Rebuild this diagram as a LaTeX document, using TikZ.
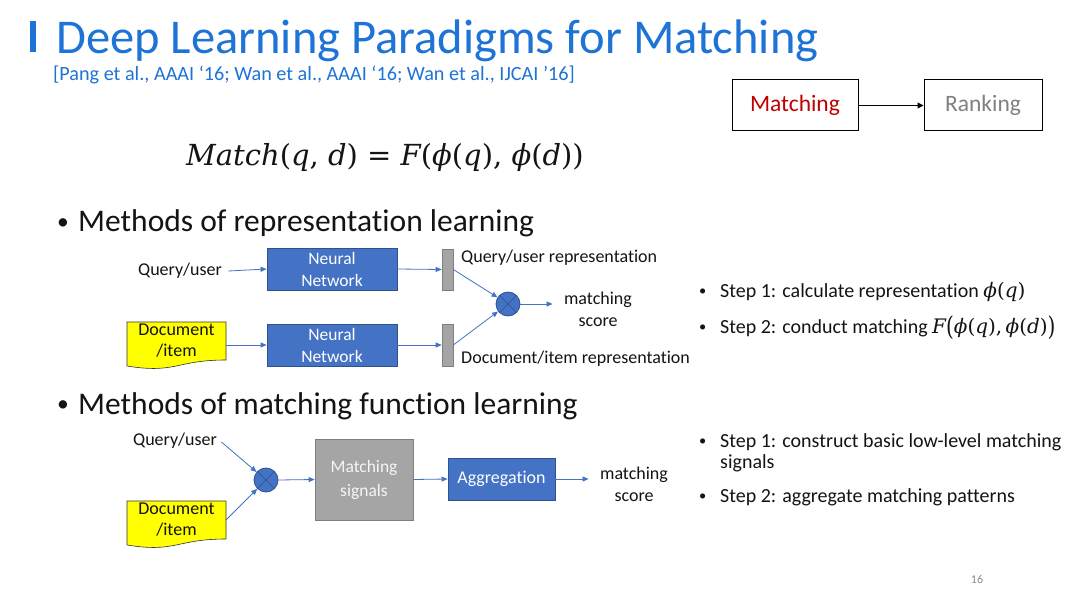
\documentclass[tikz,border=0pt]{standalone}
\usepackage{fontspec}
\usepackage{graphicx}
\setmainfont{Carlito}[Ligatures=NoCommon]
\newfontfamily\mathserif{DejaVu Serif}
\usetikzlibrary{arrows.meta}
\definecolor{ttl}{RGB}{30,115,215}
\definecolor{nnblue}{RGB}{68,114,196}
\definecolor{nnborder}{RGB}{47,82,143}
\definecolor{gfill}{RGB}{165,165,165}
\definecolor{gborder}{RGB}{127,127,127}
\definecolor{docy}{RGB}{255,255,0}
\definecolor{mred}{RGB}{192,0,0}
\definecolor{rgrey}{RGB}{128,128,128}
\definecolor{txt}{RGB}{20,20,20}
\tikzset{
  nnbox/.style={draw=nnborder, fill=nnblue, text=white, align=center, inner sep=0pt,
    font=\fontsize{17.5}{22}\selectfont, line width=0.8pt},
  graybox/.style={draw=gborder, fill=gfill, text=white!92!gray, align=center, inner sep=0pt,
    font=\fontsize{17.5}{24}\selectfont, line width=0.8pt},
  repbar/.style={draw=gborder, fill=gfill, inner sep=0pt, minimum width=11pt, line width=0.6pt},
  mult/.style={circle, draw=nnborder, fill=nnblue, inner sep=0pt, minimum size=24pt, line width=0.8pt},
  flow/.style={draw=nnblue, line width=0.8pt, -{Triangle[length=6pt,width=5pt]}},
  docshape/.style={draw=black!80, fill=docy, line width=0.6pt},
  doctext/.style={align=center, inner sep=0pt, font=\fontsize{18}{21}\selectfont, text=txt},
  lbl/.style={text=txt, font=\fontsize{18}{22}\selectfont},
  stepline/.style={anchor=base west, inner sep=0pt, text=txt, font=\fontsize{20}{24}\selectfont},
  secline/.style={anchor=base west, inner sep=0pt, text=txt, font=\fontsize{31.5}{36}\selectfont},
  pbox/.style={draw=black, line width=1pt, fill=white, minimum width=#1, minimum height=51pt, inner sep=0pt, font=\fontsize{23.5}{28}\selectfont},
}
\newcommand{\mybul}{\makebox[21pt][l]{\raisebox{0.1em}{\scalebox{0.72}{\textbullet}}}}
\newcommand{\secbul}{\makebox[21pt][l]{\raisebox{0.08em}{\scalebox{0.75}{\textbullet}}}}
\newcommand{\mi}[1]{{\mathserif\itshape #1}}
\newcommand{\mphi}{{\mathserif\itshape ϕ}}
\newcommand{\bigpar}[1]{\raisebox{-0.12em}{\scalebox{1}[1.3]{#1}}}
\begin{document}
\begin{tikzpicture}[x=1pt,y=-1pt]
\useasboundingbox (0,0) rectangle (1080,607);
\fill[white] (0,0) rectangle (1080,607);

% title
\node[fill=ttl, minimum width=6pt, minimum height=31pt, inner sep=0pt] (tbar) at (33,37) {};
\node[anchor=base west, inner sep=0pt, text=ttl, font=\fontsize{48.5}{56}\selectfont] (title) at (56,54) {Deep Learning Paradigms for Matching};
\node[anchor=base west, inner sep=0pt, text=ttl, font=\fontsize{20.2}{24}\selectfont] (cite) at (53,81) {[Pang et al., AAAI ‘16; Wan et al., AAAI ‘16; Wan et al., IJCAI ’16]};

% matching -> ranking
\node[pbox=126pt, text=mred] (match) at (795,105.5) {Matching};
\node[pbox=118pt, text=rgrey] (rank) at (983,105.5) {Ranking};
\draw[line width=1pt, -{Triangle[length=6pt,width=6pt]}] (match.east) -- (rank.west);

% formula
\node[text=txt, font=\fontsize{29}{34}\selectfont\mathserif, inner sep=0pt] (formula) at (385,158) {\mi{Match}(\mi{q}, \mi{d}) = \mi{F}(\mphi(\mi{q}), \mphi(\mi{d}))};

% section 1
\node[secline] (sec1) at (57,232) {\secbul Methods of representation learning};

\node[lbl] (q1) at (180,271) {Query/user};
\node[nnbox, minimum width=130pt, minimum height=42pt] (nn1) at (332,269) {Neural\\Network};
\node[nnbox, minimum width=130pt, minimum height=42pt] (nn2) at (332,345) {Neural\\Network};
\draw[docshape] (127,322) -- (226,322) -- (226,360) .. controls (176,360) and (176,374) .. (127,366) -- cycle;
\node[doctext, minimum width=99pt, minimum height=40pt] (d1) at (176.5,341) {Document\\/item};
\node[repbar, minimum height=41pt] (b1) at (447.5,269.5) {};
\node[repbar, minimum height=42pt] (b2) at (447.5,345) {};
\node[mult] (c1) at (508,304) {};
\draw[nnborder, line width=0.6pt] (c1.north east) -- (c1.south west) (c1.north west) -- (c1.south east);
\node[lbl, align=center, font=\fontsize{18}{22}\selectfont] (ms1) at (598,309) {matching\\score};
\node[lbl, anchor=west, inner sep=0pt] (rq) at (461,258) {Query/user representation};
\node[lbl, anchor=west, inner sep=0pt] (rd) at (461,359) {Document/item representation};

\draw[flow] ([xshift=3pt]q1.east) -- (nn1.west);
\draw[flow] (226,345) -- (nn2.west);
\draw[flow] (nn1.east) -- (b1.west);
\draw[flow] (nn2.east) -- (b2.west);
\draw[flow] (b1.east) -- (c1);
\draw[flow] (b2.east) -- (c1);
\draw[flow, shorten >=8pt] (c1.east) -- (ms1.west |- c1.east);

\node[stepline] (s1a) at (699,298) {\mybul Step 1: calculate representation {\fontsize{20}{24}\selectfont\mathserif\mphi(\mi{q})}};
\node[stepline] (s1b) at (699,333) {\mybul Step 2: conduct matching {\fontsize{20}{24}\selectfont\mathserif\mi{F}\bigpar{(}\mphi(\mi{q}),\,\mphi(\mi{d})\bigpar{)}}};

% section 2
\node[secline] (sec2) at (57,414) {\secbul Methods of matching function learning};

\node[lbl] (q2) at (175,441) {Query/user};
\draw[docshape] (127,501) -- (226,501) -- (226,539) .. controls (176,539) and (176,553) .. (127,545) -- cycle;
\node[doctext, minimum width=99pt, minimum height=40pt] (d2) at (176.5,520) {Document\\/item};
\node[mult] (c2) at (266,480) {};
\draw[nnborder, line width=0.6pt] (c2.north east) -- (c2.south west) (c2.north west) -- (c2.south east);
\node[graybox, minimum width=98pt, minimum height=81pt] (msig) at (364,479.5) {Matching\\signals};
\node[nnbox, minimum width=107pt, minimum height=42pt, font=\fontsize{18}{22}\selectfont] (agg) at (501.5,479) {Aggregation};
\node[lbl, align=center, font=\fontsize{18}{22}\selectfont] (ms2) at (634,484) {matching\\score};

\draw[flow] ([xshift=1pt,yshift=-1pt]q2.east) -- (c2);
\draw[flow] (226,520) -- (c2);
\draw[flow] (c2.east) -- (msig.west);
\draw[flow] (msig.east) -- (agg.west);
\draw[flow, shorten >=8pt] (agg.east) -- (ms2.west |- agg.east);

\node[stepline] (s2a) at (699,447) {\mybul Step 1: construct basic low-level matching};
\node[stepline] (s2b) at (720,468) {signals};
\node[stepline] (s2c) at (699,502) {\mybul Step 2: aggregate matching patterns};

\node[text=black!45, font=\fontsize{12}{14}\selectfont] (pg) at (977,579) {16};
\end{tikzpicture}
\end{document}
